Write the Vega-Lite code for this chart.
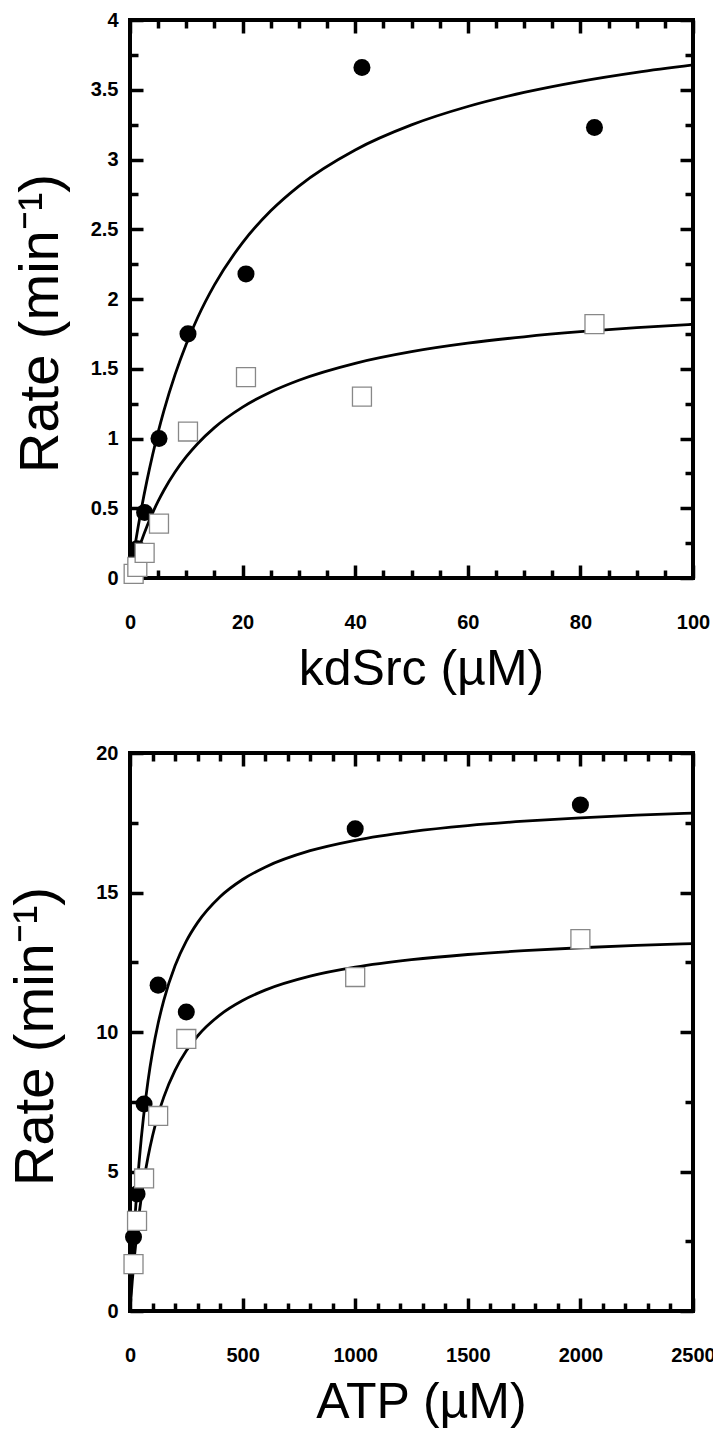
{
  "$schema": "https://vega.github.io/schema/vega-lite/v6.json",
  "background": "white",
  "padding": {"left": 5, "top": 8, "right": 0, "bottom": 0},
  "bounds": "flush",
  "spacing": 175,
  "config": {
    "view": {"stroke": "black", "strokeWidth": 4},
    "axis": {
      "domain": false, "grid": false, "tickColor": "black", "tickWidth": 3.5,
      "labelFont": "Liberation Sans", "labelFontSize": 20, "labelFontWeight": "bold", "labelColor": "black",
      "labelFlush": false, "labelOverlap": false,
      "titleFont": "Liberation Sans", "titleFontSize": 50, "titleFontWeight": "normal", "titleColor": "black"
    }
  },
  "datasets": {
    "top_pts": [
      {"x": 1.3, "y": 0.21, "s": "A"}, {"x": 2.6, "y": 0.47, "s": "A"}, {"x": 5.15, "y": 1.0, "s": "A"},
      {"x": 10.3, "y": 1.75, "s": "A"}, {"x": 20.6, "y": 2.18, "s": "A"}, {"x": 41.2, "y": 3.66, "s": "A"},
      {"x": 82.5, "y": 3.23, "s": "A"},
      {"x": 0.65, "y": 0.03, "s": "B"}, {"x": 1.3, "y": 0.08, "s": "B"}, {"x": 2.6, "y": 0.18, "s": "B"},
      {"x": 5.15, "y": 0.39, "s": "B"}, {"x": 10.3, "y": 1.05, "s": "B"}, {"x": 20.6, "y": 1.44, "s": "B"},
      {"x": 41.2, "y": 1.30, "s": "B"}, {"x": 82.5, "y": 1.82, "s": "B"}
    ],
    "top_fit": [
      {"x": 0, "y": 0, "s": "A"}, {"x": 0.5, "y": 0.1344, "s": "A"}, {"x": 1, "y": 0.2606, "s": "A"},
      {"x": 2, "y": 0.491, "s": "A"}, {"x": 3, "y": 0.6962, "s": "A"}, {"x": 4, "y": 0.8801, "s": "A"},
      {"x": 5, "y": 1.0459, "s": "A"}, {"x": 6, "y": 1.1961, "s": "A"}, {"x": 8, "y": 1.4577, "s": "A"},
      {"x": 10, "y": 1.6779, "s": "A"}, {"x": 12, "y": 1.8658, "s": "A"}, {"x": 15, "y": 2.1011, "s": "A"},
      {"x": 20, "y": 2.4043, "s": "A"}, {"x": 25, "y": 2.6322, "s": "A"}, {"x": 30, "y": 2.8098, "s": "A"},
      {"x": 40, "y": 3.0686, "s": "A"}, {"x": 50, "y": 3.2481, "s": "A"}, {"x": 60, "y": 3.3798, "s": "A"},
      {"x": 70, "y": 3.4807, "s": "A"}, {"x": 80, "y": 3.5604, "s": "A"}, {"x": 90, "y": 3.625, "s": "A"},
      {"x": 100, "y": 3.6783, "s": "A"},
      {"x": 0, "y": 0, "s": "B"}, {"x": 0.5, "y": 0.0724, "s": "B"}, {"x": 1, "y": 0.1399, "s": "B"},
      {"x": 2, "y": 0.262, "s": "B"}, {"x": 3, "y": 0.3696, "s": "B"}, {"x": 4, "y": 0.4652, "s": "B"},
      {"x": 5, "y": 0.5505, "s": "B"}, {"x": 6, "y": 0.6273, "s": "B"}, {"x": 8, "y": 0.7596, "s": "B"},
      {"x": 10, "y": 0.8697, "s": "B"}, {"x": 12, "y": 0.9628, "s": "B"}, {"x": 15, "y": 1.0781, "s": "B"},
      {"x": 20, "y": 1.2249, "s": "B"}, {"x": 25, "y": 1.3338, "s": "B"}, {"x": 30, "y": 1.4178, "s": "B"},
      {"x": 40, "y": 1.539, "s": "B"}, {"x": 50, "y": 1.6223, "s": "B"}, {"x": 60, "y": 1.6829, "s": "B"},
      {"x": 70, "y": 1.7291, "s": "B"}, {"x": 80, "y": 1.7655, "s": "B"}, {"x": 90, "y": 1.7948, "s": "B"},
      {"x": 100, "y": 1.819, "s": "B"}
    ],
    "bot_pts": [
      {"x": 15.6, "y": 2.65, "s": "A"}, {"x": 31.25, "y": 4.19, "s": "A"}, {"x": 62.5, "y": 7.42, "s": "A"},
      {"x": 125, "y": 11.68, "s": "A"}, {"x": 250, "y": 10.72, "s": "A"}, {"x": 1000, "y": 17.28, "s": "A"},
      {"x": 2000, "y": 18.14, "s": "A"},
      {"x": 15.6, "y": 1.68, "s": "B"}, {"x": 31.25, "y": 3.23, "s": "B"}, {"x": 62.5, "y": 4.75, "s": "B"},
      {"x": 125, "y": 6.99, "s": "B"}, {"x": 250, "y": 9.75, "s": "B"}, {"x": 1000, "y": 11.97, "s": "B"},
      {"x": 2000, "y": 13.33, "s": "B"}
    ],
    "bot_fit": [
      {"x": 0, "y": 0, "s": "A"}, {"x": 5, "y": 0.8838, "s": "A"}, {"x": 10, "y": 1.6873, "s": "A"},
      {"x": 20, "y": 3.0933, "s": "A"}, {"x": 30, "y": 4.2831, "s": "A"}, {"x": 40, "y": 5.3029, "s": "A"},
      {"x": 50, "y": 6.1867, "s": "A"}, {"x": 60, "y": 6.96, "s": "A"}, {"x": 80, "y": 8.2489, "s": "A"},
      {"x": 100, "y": 9.28, "s": "A"}, {"x": 125, "y": 10.3111, "s": "A"}, {"x": 150, "y": 11.136, "s": "A"},
      {"x": 200, "y": 12.3733, "s": "A"}, {"x": 250, "y": 13.2571, "s": "A"}, {"x": 300, "y": 13.92, "s": "A"},
      {"x": 400, "y": 14.848, "s": "A"}, {"x": 500, "y": 15.4667, "s": "A"}, {"x": 600, "y": 15.9086, "s": "A"},
      {"x": 800, "y": 16.4978, "s": "A"}, {"x": 1000, "y": 16.8727, "s": "A"}, {"x": 1250, "y": 17.1852, "s": "A"},
      {"x": 1500, "y": 17.4, "s": "A"}, {"x": 1750, "y": 17.5568, "s": "A"}, {"x": 2000, "y": 17.6762, "s": "A"},
      {"x": 2250, "y": 17.7702, "s": "A"}, {"x": 2500, "y": 17.8462, "s": "A"},
      {"x": 0, "y": 0, "s": "B"}, {"x": 5, "y": 0.552, "s": "B"}, {"x": 10, "y": 1.0615, "s": "B"},
      {"x": 20, "y": 1.9714, "s": "B"}, {"x": 30, "y": 2.76, "s": "B"}, {"x": 40, "y": 3.45, "s": "B"},
      {"x": 50, "y": 4.0588, "s": "B"}, {"x": 60, "y": 4.6, "s": "B"}, {"x": 80, "y": 5.52, "s": "B"},
      {"x": 100, "y": 6.2727, "s": "B"}, {"x": 125, "y": 7.0408, "s": "B"}, {"x": 150, "y": 7.6667, "s": "B"},
      {"x": 200, "y": 8.625, "s": "B"}, {"x": 250, "y": 9.3243, "s": "B"}, {"x": 300, "y": 9.8571, "s": "B"},
      {"x": 400, "y": 10.6154, "s": "B"}, {"x": 500, "y": 11.129, "s": "B"}, {"x": 600, "y": 11.5, "s": "B"},
      {"x": 800, "y": 12.0, "s": "B"}, {"x": 1000, "y": 12.3214, "s": "B"}, {"x": 1250, "y": 12.5912, "s": "B"},
      {"x": 1500, "y": 12.7778, "s": "B"}, {"x": 1750, "y": 12.9144, "s": "B"}, {"x": 2000, "y": 13.0189, "s": "B"},
      {"x": 2250, "y": 13.1013, "s": "B"}, {"x": 2500, "y": 13.1679, "s": "B"}
    ]
  },
  "vconcat": [
    {
      "width": 563, "height": 558,
      "resolve": {"scale": {"x": "shared", "y": "shared"}, "axis": {"x": "independent", "y": "independent"}},
      "layer": [
        {
          "data": {"name": "top_fit"},
          "transform": [{"filter": "datum.s === 'A'"}],
          "mark": {"type": "line", "color": "black", "strokeWidth": 2.8, "interpolate": "monotone"},
          "encoding": {
            "x": {"field": "x", "type": "quantitative", "scale": {"domain": [0, 100], "nice": false},
              "axis": {"orient": "bottom", "values": [0, 20, 40, 60, 80, 100], "tickSize": -13, "labelPadding": 47, "format": "d", "title": "kdSrc (µM)", "titlePadding": 12, "titleX": 291}},
            "y": {"field": "y", "type": "quantitative", "scale": {"domain": [0, 4], "nice": false},
              "axis": {"orient": "left", "values": [0, 0.5, 1, 1.5, 2, 2.5, 3, 3.5, 4], "tickSize": -13, "labelPadding": 25, "format": "~f", "title": "Rate (min⁻¹)", "titlePadding": 21, "titleFontSize": 56, "titleY": 303}}
          }
        },
        {
          "data": {"name": "top_fit"},
          "transform": [{"filter": "datum.s === 'B'"}],
          "mark": {"type": "line", "color": "black", "strokeWidth": 2.8, "interpolate": "monotone"},
          "encoding": {
            "x": {"field": "x", "type": "quantitative", "scale": {"domain": [0, 100], "nice": false},
              "axis": {"orient": "bottom", "values": [5, 10, 15, 25, 30, 35, 45, 50, 55, 65, 70, 75, 85, 90, 95], "tickSize": -8, "labels": false, "title": null}},
            "y": {"field": "y", "type": "quantitative", "scale": {"domain": [0, 4], "nice": false},
              "axis": {"orient": "left", "values": [0.25, 0.75, 1.25, 1.75, 2.25, 2.75, 3.25, 3.75], "tickSize": -8, "labels": false, "title": null}}
          }
        },
        {
          "data": {"name": "top_pts"},
          "transform": [{"filter": "datum.s === 'A'"}],
          "mark": {"type": "point", "shape": "circle", "filled": true, "color": "black", "size": 290, "opacity": 1},
          "encoding": {
            "x": {"field": "x", "type": "quantitative", "scale": {"domain": [0, 100], "nice": false},
              "axis": {"orient": "top", "values": [0, 20, 40, 60, 80, 100], "tickSize": -13, "labels": false, "title": null}},
            "y": {"field": "y", "type": "quantitative", "scale": {"domain": [0, 4], "nice": false},
              "axis": {"orient": "right", "values": [0, 0.5, 1, 1.5, 2, 2.5, 3, 3.5, 4], "tickSize": -13, "labels": false, "title": null}}
          }
        },
        {
          "data": {"name": "top_pts"},
          "transform": [{"filter": "datum.s === 'B'"}],
          "mark": {"type": "point", "shape": "square", "filled": true, "fill": "white", "stroke": "#888888", "strokeWidth": 1.3, "size": 360, "opacity": 1},
          "encoding": {
            "x": {"field": "x", "type": "quantitative", "scale": {"domain": [0, 100], "nice": false},
              "axis": {"orient": "top", "values": [5, 10, 15, 25, 30, 35, 45, 50, 55, 65, 70, 75, 85, 90, 95], "tickSize": -8, "labels": false, "title": null}},
            "y": {"field": "y", "type": "quantitative", "scale": {"domain": [0, 4], "nice": false},
              "axis": {"orient": "right", "values": [0.25, 0.75, 1.25, 1.75, 2.25, 2.75, 3.25, 3.75], "tickSize": -8, "labels": false, "title": null}}
          }
        }
      ]
    },
    {
      "width": 563, "height": 558,
      "resolve": {"scale": {"x": "shared", "y": "shared"}, "axis": {"x": "independent", "y": "independent"}},
      "layer": [
        {
          "data": {"name": "bot_fit"},
          "transform": [{"filter": "datum.s === 'A'"}],
          "mark": {"type": "line", "color": "black", "strokeWidth": 2.8, "interpolate": "monotone"},
          "encoding": {
            "x": {"field": "x", "type": "quantitative", "scale": {"domain": [0, 2500], "nice": false},
              "axis": {"orient": "bottom", "values": [0, 500, 1000, 1500, 2000, 2500], "tickSize": -13, "labelPadding": 47, "format": "d", "title": "ATP (µM)", "titlePadding": 12, "titleX": 291}},
            "y": {"field": "y", "type": "quantitative", "scale": {"domain": [0, 20], "nice": false},
              "axis": {"orient": "left", "values": [0, 5, 10, 15, 20], "tickSize": -13, "labelPadding": 25, "format": "d", "title": "Rate (min⁻¹)", "titlePadding": 31, "titleFontSize": 56, "titleY": 283}}
          }
        },
        {
          "data": {"name": "bot_fit"},
          "transform": [{"filter": "datum.s === 'B'"}],
          "mark": {"type": "line", "color": "black", "strokeWidth": 2.8, "interpolate": "monotone"},
          "encoding": {
            "x": {"field": "x", "type": "quantitative", "scale": {"domain": [0, 2500], "nice": false},
              "axis": {"orient": "bottom", "values": [100, 200, 300, 400, 600, 700, 800, 900, 1100, 1200, 1300, 1400, 1600, 1700, 1800, 1900, 2100, 2200, 2300, 2400], "tickSize": -8, "labels": false, "title": null}},
            "y": {"field": "y", "type": "quantitative", "scale": {"domain": [0, 20], "nice": false},
              "axis": {"orient": "left", "values": [2.5, 7.5, 12.5, 17.5], "tickSize": -8, "labels": false, "title": null}}
          }
        },
        {
          "data": {"name": "bot_pts"},
          "transform": [{"filter": "datum.s === 'A'"}],
          "mark": {"type": "point", "shape": "circle", "filled": true, "color": "black", "size": 290, "opacity": 1},
          "encoding": {
            "x": {"field": "x", "type": "quantitative", "scale": {"domain": [0, 2500], "nice": false},
              "axis": {"orient": "top", "values": [0, 500, 1000, 1500, 2000, 2500], "tickSize": -13, "labels": false, "title": null}},
            "y": {"field": "y", "type": "quantitative", "scale": {"domain": [0, 20], "nice": false},
              "axis": {"orient": "right", "values": [0, 5, 10, 15, 20], "tickSize": -13, "labels": false, "title": null}}
          }
        },
        {
          "data": {"name": "bot_pts"},
          "transform": [{"filter": "datum.s === 'B'"}],
          "mark": {"type": "point", "shape": "square", "filled": true, "fill": "white", "stroke": "#888888", "strokeWidth": 1.3, "size": 360, "opacity": 1},
          "encoding": {
            "x": {"field": "x", "type": "quantitative", "scale": {"domain": [0, 2500], "nice": false},
              "axis": {"orient": "top", "values": [100, 200, 300, 400, 600, 700, 800, 900, 1100, 1200, 1300, 1400, 1600, 1700, 1800, 1900, 2100, 2200, 2300, 2400], "tickSize": -8, "labels": false, "title": null}},
            "y": {"field": "y", "type": "quantitative", "scale": {"domain": [0, 20], "nice": false},
              "axis": {"orient": "right", "values": [2.5, 7.5, 12.5, 17.5], "tickSize": -8, "labels": false, "title": null}}
          }
        }
      ]
    }
  ]
}
